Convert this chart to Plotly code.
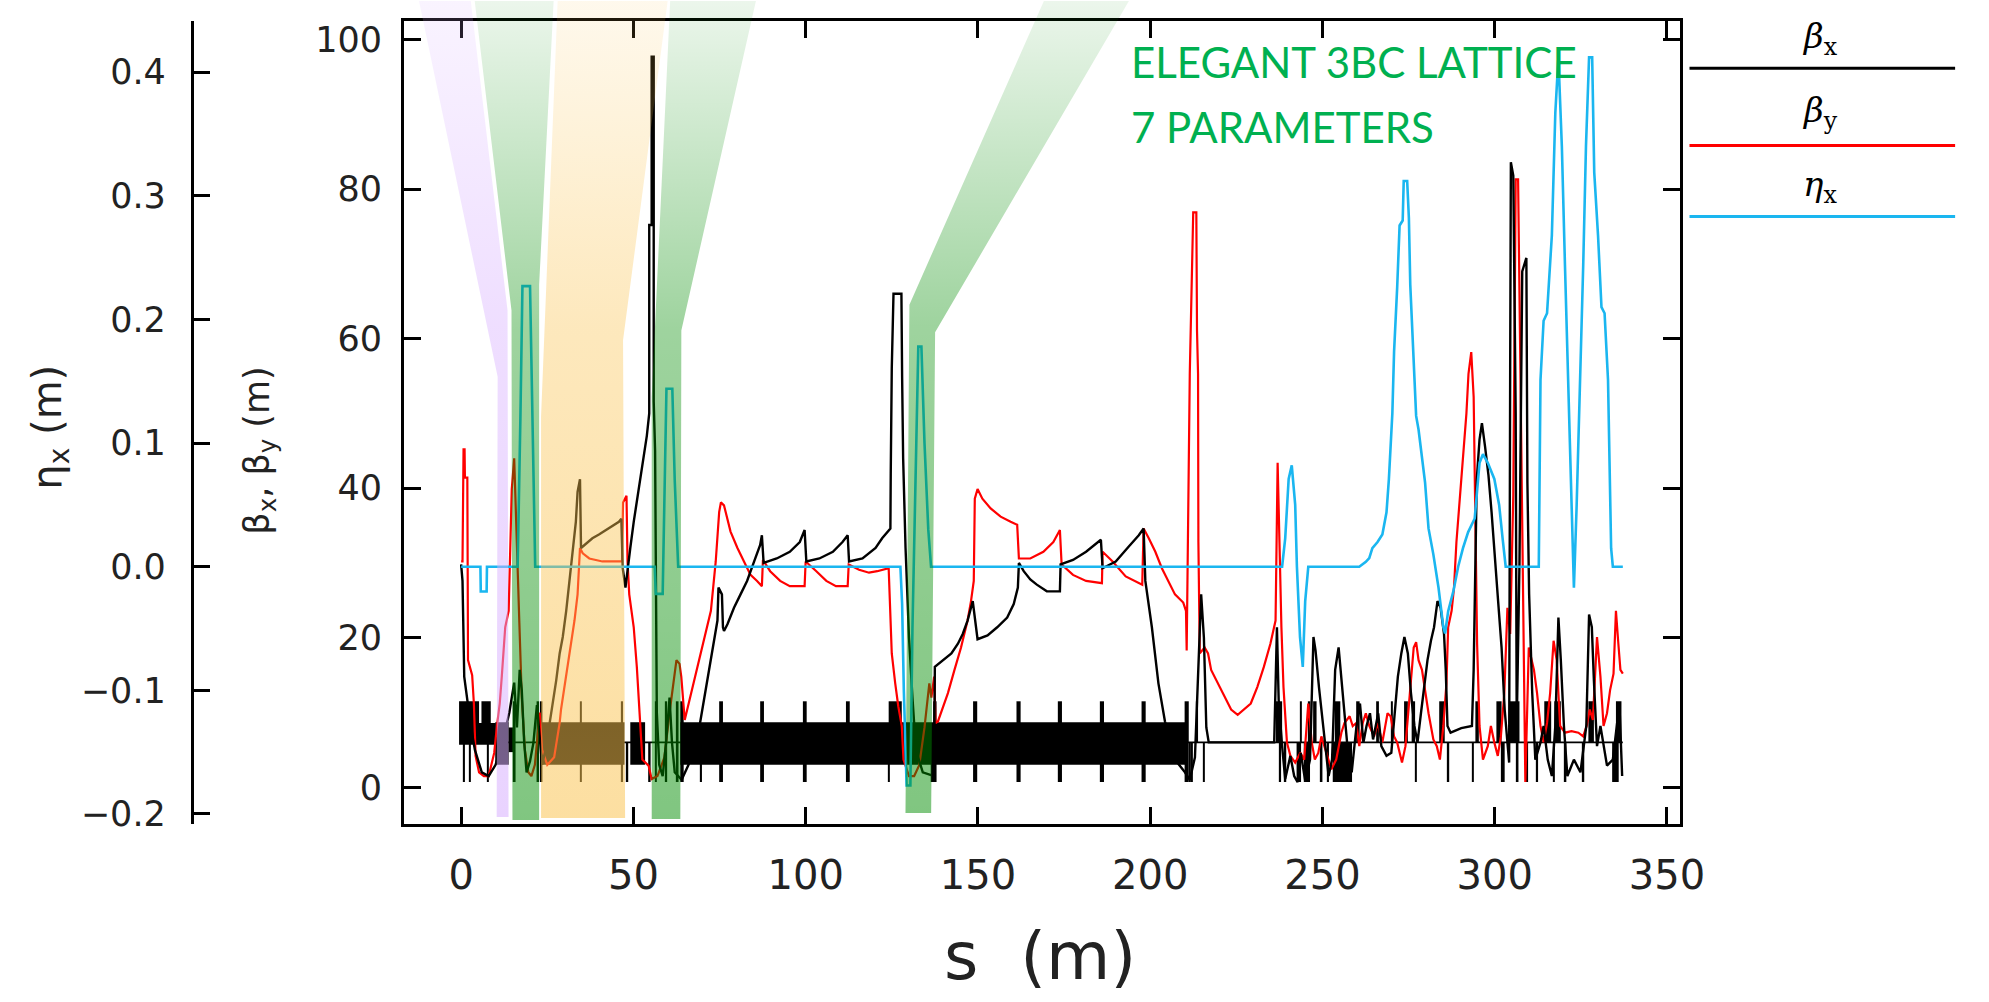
import plotly.graph_objects as go

FIG_W, FIG_H = 1989, 1002

# ---------------- calibration of the original drawing (pixels) ----------------
PLOT_L, PLOT_R, PLOT_T, PLOT_B = 409, 1701, 20, 832
S0_PX, PX_PER_M = 467, 3.489        # s = 0 m position, pixels per metre
B0_PY, PY_PER_BETA = 795, 7.56      # beta = 0 position, pixels per metre of beta
E0_PY, PY_PER_ETA = 572, 1250       # eta = 0 position, pixels per metre of eta
ETA_AXIS_X = 194


def s_at(px):
    return (px - S0_PX) / PX_PER_M


def beta_at(py):
    return (B0_PY - py) / PY_PER_BETA


def eta_at(py):
    return (E0_PY - py) / PY_PER_ETA


# ---------------- data: (s [m], value) ----------------
beta_x_pts = [
    (0.0, 29.8), (0.4, 27.6), (0.9, 14.8), (1.8, 11.7), (2.8, 8.2), (4.0, 5.0), (6.0, 2.0), (8.0, 1.5),
    (10.0, 3.0), (12.0, 6.0), (14.0, 10.0), (15.4, 14.0), (16.2, 8.0), (17.0, 15.7), (17.6, 13.0),
    (18.3, 6.0), (19.0, 2.0), (20.0, 3.5), (21.0, 6.0), (22.0, 11.0), (22.5, 8.0), (23.5, 3.0),
    (24.5, 5.0), (25.7, 8.6), (26.7, 11.2), (27.6, 14.3), (28.6, 17.9), (29.5, 20.1), (30.5, 23.6),
    (31.4, 27.6), (32.4, 31.1), (33.3, 35.5), (33.8, 39.5), (34.5, 41.2), (34.8, 32.0), (36.3, 32.6),
    (38.1, 33.3), (40.0, 33.8), (42.0, 34.4), (43.9, 35.0), (45.8, 35.5), (46.5, 35.9), (46.9, 29.3),
    (47.7, 26.7), (48.3, 29.3), (49.1, 32.0), (50.1, 35.5), (51.0, 38.1), (52.0, 41.2), (52.9, 43.9),
    (53.9, 47.0), (54.6, 50.0), (54.6, 75.2), (55.3, 75.2), (55.3, 97.7), (55.9, 97.7), (55.9, 51.6),
    (56.3, 45.0), (56.5, 30.0), (56.8, 10.0), (57.5, 3.0), (58.5, 1.5), (59.5, 6.0), (60.5, 12.0),
    (61.2, 6.0), (62.0, 2.0), (63.0, 1.5), (64.0, 1.0), (66.0, 3.0), (68.0, 6.0), (69.2, 8.2),
    (71.1, 13.4), (73.0, 18.7), (74.4, 22.3), (74.7, 26.7), (75.7, 25.8), (76.0, 21.4), (76.3, 20.9),
    (77.3, 21.8), (79.2, 24.0), (81.1, 25.8), (83.0, 27.6), (84.9, 30.0), (86.8, 32.4), (87.3, 33.7),
    (87.8, 30.0), (91.6, 30.6), (95.4, 31.5), (98.3, 32.8), (99.7, 34.4), (100.2, 30.2), (104.0, 30.6),
    (107.9, 31.5), (110.7, 32.8), (112.2, 33.7), (112.6, 30.2), (116.5, 30.6), (120.3, 32.0),
    (122.2, 33.3), (124.6, 34.6), (124.7, 42.0), (125.0, 56.0), (125.5, 66.0), (127.8, 66.0),
    (128.0, 55.0), (128.3, 44.0), (129.0, 32.0), (130.0, 20.0), (131.0, 12.0), (132.0, 5.0),
    (134.0, 2.0), (137.3, 1.5), (137.5, 16.1), (140.3, 17.2), (142.3, 17.9), (144.2, 19.2),
    (145.6, 20.5), (147.0, 22.3), (148.5, 24.9), (149.9, 19.8), (152.8, 20.3), (155.6, 21.4),
    (158.5, 22.7), (160.4, 24.5), (161.6, 26.7), (161.9, 30.0), (163.3, 28.9), (165.2, 27.8),
    (167.1, 27.1), (170.0, 26.2), (173.8, 26.2), (174.0, 29.8), (177.6, 30.4), (181.4, 31.5),
    (184.3, 32.6), (185.7, 33.1), (186.2, 29.3), (190.0, 30.2), (193.8, 32.2), (196.7, 33.7),
    (198.1, 34.6), (198.6, 27.6), (200.5, 21.4), (202.4, 13.9), (204.3, 8.8), (207.2, 3.7),
    (210.1, 2.0), (211.5, 1.0), (213.0, 4.0), (214.8, 25.8), (215.6, 20.0), (216.3, 8.0), (217.0, 6.0),
    (236.0, 6.0), (236.8, 21.4), (237.3, 11.7), (238.3, 5.5), (239.2, 1.1), (240.7, 4.2), (241.8, 1.5),
    (242.8, 0.7), (243.7, 4.6), (245.0, 0.9), (246.4, 3.7), (247.4, 20.1), (248.0, 18.3), (249.0, 13.4),
    (249.9, 9.5), (250.9, 5.5), (251.8, 1.5), (252.8, 3.7), (253.7, 15.7), (254.7, 18.7), (255.7, 13.4),
    (256.6, 8.2), (257.6, 3.7), (258.5, 2.0), (259.9, 8.2), (260.9, 11.2), (261.9, 6.0), (262.8, 8.2),
    (263.8, 9.9), (264.7, 6.4), (266.2, 9.9), (267.1, 5.5), (268.6, 4.2), (270.0, 4.6), (270.9, 9.0),
    (271.9, 14.8), (272.9, 17.9), (273.8, 20.1), (274.8, 17.9), (275.7, 12.6), (276.7, 8.2),
    (277.6, 6.0), (278.6, 9.9), (279.6, 13.4), (280.5, 17.0), (281.5, 19.6), (282.4, 21.4),
    (283.4, 24.9), (284.3, 24.0), (285.3, 20.5), (285.8, 15.7), (286.3, 8.2), (287.2, 7.3),
    (290.3, 7.9), (293.4, 8.2), (293.9, 15.7), (294.3, 28.4), (294.8, 41.2), (295.6, 46.5),
    (296.3, 48.7), (297.2, 45.6), (298.2, 41.7), (299.1, 36.8), (300.1, 31.1), (301.0, 24.9),
    (302.0, 18.7), (302.9, 10.4), (303.7, 6.0), (304.2, 3.3), (304.5, 56.2), (304.7, 83.6),
    (305.4, 81.8), (306.1, 50.0), (306.4, 8.2), (307.2, 30.0), (308.0, 69.0), (309.2, 70.8),
    (309.5, 40.8), (310.0, 25.8), (310.9, 12.6), (311.8, 3.7), (313.3, 6.0), (314.2, 8.2),
    (315.4, 3.7), (316.6, 1.5), (317.6, 8.2), (318.5, 22.7), (319.2, 17.0), (320.1, 8.2),
    (321.1, 1.5), (323.0, 3.7), (324.9, 2.0), (326.6, 8.2), (327.4, 23.1), (328.2, 21.4),
    (328.8, 14.3), (329.7, 5.5), (330.7, 8.2), (332.6, 2.9), (334.3, 3.7), (335.4, 8.2),
    (336.2, 11.2), (337.0, 1.5),
]

beta_y_pts = [
    (0.0, 30.2), (0.4, 30.2), (0.7, 45.2), (1.0, 45.2), (1.1, 41.4), (1.8, 41.4), (2.0, 17.0),
    (3.2, 15.0), (3.7, 11.2), (4.2, 4.2), (5.2, 2.0), (6.6, 1.5), (8.0, 1.5), (8.7, 2.9), (9.6, 4.6),
    (10.4, 8.2), (11.2, 11.2), (11.8, 14.8), (12.8, 21.4), (13.8, 23.6), (14.2, 31.1), (14.7, 39.9),
    (15.4, 44.0), (16.1, 35.0), (16.9, 22.0), (17.6, 12.0), (18.5, 5.0), (19.5, 2.0), (20.4, 1.5),
    (21.4, 3.0), (22.4, 8.0), (22.8, 10.0), (23.5, 5.0), (25.0, 3.0), (27.0, 4.0), (28.6, 8.6),
    (29.0, 10.4), (30.0, 13.4), (31.0, 16.1), (31.9, 19.2), (32.9, 22.3), (33.8, 25.8), (34.4, 31.0),
    (34.5, 32.0), (35.3, 31.3), (37.2, 30.6), (39.1, 30.4), (41.0, 30.2), (46.7, 30.2), (47.0, 38.1),
    (48.0, 39.0), (48.3, 30.2), (48.8, 25.8), (50.1, 21.4), (51.0, 16.1), (52.0, 9.0), (52.6, 3.7),
    (54.4, 2.9), (55.3, 1.1), (57.0, 1.5), (59.0, 4.0), (60.5, 10.0), (61.8, 15.0), (62.5, 17.0),
    (63.4, 16.5), (63.9, 14.8), (64.9, 9.0), (66.8, 12.6), (68.7, 16.1), (70.6, 19.6), (72.5, 23.6),
    (73.9, 30.2), (74.9, 36.8), (75.4, 38.1), (76.3, 37.7), (78.2, 34.2), (80.2, 32.0), (82.1, 30.2),
    (84.0, 28.4), (85.9, 27.6), (87.3, 26.9), (87.6, 30.4), (89.7, 28.9), (92.6, 27.6), (95.4, 26.9),
    (99.7, 26.9), (100.0, 30.2), (103.1, 28.9), (106.0, 27.6), (108.8, 26.9), (112.2, 26.9),
    (112.5, 29.8), (115.5, 29.1), (118.4, 28.7), (120.8, 28.9), (124.1, 29.3), (124.6, 24.0),
    (125.0, 17.9), (126.0, 13.9), (126.9, 10.8), (127.9, 8.2), (128.4, 3.7), (130.0, 1.5),
    (131.5, 1.5), (133.0, 3.0), (134.5, 8.0), (135.9, 13.9), (136.5, 12.0), (137.3, 14.8),
    (137.7, 8.6), (138.4, 8.8), (141.3, 12.6), (143.2, 15.7), (145.1, 18.7), (147.0, 22.3),
    (148.0, 24.9), (148.8, 27.6), (149.1, 38.6), (149.9, 39.9), (151.3, 38.6), (153.7, 37.3),
    (156.6, 36.2), (159.5, 35.5), (161.4, 35.1), (161.9, 30.6), (165.2, 30.6), (169.0, 31.5),
    (171.9, 32.8), (173.8, 34.4), (174.3, 29.8), (177.6, 28.4), (181.4, 27.6), (186.0, 27.3),
    (186.2, 31.5), (189.1, 30.2), (192.9, 28.2), (197.7, 27.1), (198.1, 34.6), (199.6, 33.3),
    (201.5, 31.5), (203.4, 29.3), (205.3, 27.6), (207.2, 25.8), (209.6, 24.7), (210.4, 23.6),
    (210.6, 18.3), (210.9, 32.4), (211.5, 55.3), (212.5, 76.9), (213.4, 76.9), (213.6, 61.1),
    (213.9, 55.3), (214.0, 32.8), (214.4, 17.9), (215.8, 18.7), (216.8, 17.9), (217.7, 15.7),
    (219.6, 13.9), (221.5, 12.1), (223.5, 10.4), (225.4, 9.7), (227.3, 10.4), (229.2, 11.2),
    (231.1, 13.4), (233.0, 16.1), (234.9, 19.2), (236.4, 22.3), (237.0, 43.4), (237.5, 32.4),
    (238.1, 21.4), (238.7, 13.4), (239.7, 6.0), (240.7, 4.2), (242.1, 3.3), (243.6, 4.6),
    (244.7, 3.7), (245.9, 11.2), (246.9, 6.0), (247.8, 3.7), (248.8, 4.6), (249.7, 6.8),
    (251.2, 4.6), (252.6, 2.4), (254.0, 3.7), (255.5, 7.3), (256.4, 8.6), (257.9, 9.5), (258.8, 8.2),
    (259.8, 8.6), (260.7, 5.5), (261.7, 8.6), (262.6, 9.9), (263.6, 8.2), (265.0, 6.8), (266.0, 8.6),
    (267.4, 6.0), (268.9, 9.9), (269.8, 9.5), (270.8, 6.8), (271.7, 6.0), (273.1, 3.3), (274.1, 5.5),
    (275.1, 11.2), (276.5, 18.7), (277.2, 19.4), (277.9, 17.0), (278.9, 15.7), (279.8, 12.6),
    (280.8, 9.9), (282.2, 6.4), (283.2, 5.5), (284.1, 3.7), (285.1, 8.2), (286.0, 13.9),
    (286.5, 21.4), (287.5, 23.6), (288.2, 26.7), (288.9, 32.8), (289.9, 39.0), (290.8, 44.3),
    (291.8, 50.0), (292.4, 55.3), (293.2, 58.2), (293.9, 52.2), (294.3, 36.8), (294.9, 19.2),
    (295.6, 8.2), (296.6, 3.7), (298.0, 5.5), (298.9, 8.2), (299.9, 6.0), (300.9, 4.2), (301.8, 6.8),
    (302.8, 12.6), (303.7, 24.0), (304.5, 20.5), (305.4, 39.0), (306.1, 81.3), (306.8, 81.3),
    (307.3, 61.1), (308.0, 30.2), (308.9, 0.7), (309.9, 18.7), (311.4, 15.7), (312.3, 12.6),
    (313.3, 8.2), (314.2, 6.0), (315.2, 8.6), (316.1, 12.6), (317.1, 19.6), (318.0, 17.0),
    (319.0, 8.2), (320.4, 7.3), (322.3, 7.5), (324.3, 7.3), (325.7, 6.8), (326.7, 8.2), (327.6, 10.4),
    (328.5, 9.0), (329.7, 20.1), (330.7, 14.8), (331.6, 8.2), (332.6, 9.9), (333.5, 13.0),
    (334.5, 15.2), (335.2, 23.6), (335.9, 19.2), (336.5, 15.7), (337.2, 15.2),
]

eta_x_pts = [
    (0.0, 0.0), (5.6, 0.0), (5.7, -0.02), (7.4, -0.02), (7.5, 0.0), (16.4, 0.0), (17.2, 0.12),
    (17.8, 0.227), (20.0, 0.227), (20.8, 0.12), (21.5, 0.0), (56.2, 0.0), (56.5, -0.022),
    (58.5, -0.022), (59.0, 0.06), (59.6, 0.144), (61.3, 0.144), (62.0, 0.07), (63.0, 0.0),
    (127.5, 0.0), (128.0, -0.03), (128.5, -0.10), (129.3, -0.177), (130.4, -0.177), (131.0, -0.05),
    (132.0, 0.10), (132.7, 0.178), (133.6, 0.178), (134.5, 0.10), (135.6, 0.03), (136.4, 0.0),
    (238.3, 0.0), (239.2, 0.023), (240.2, 0.071), (241.1, 0.082), (242.1, 0.050), (242.6, 0.0),
    (243.5, -0.057), (244.3, -0.081), (245.0, -0.028), (245.9, 0.0), (260.7, 0.0), (262.6, 0.004),
    (263.6, 0.007), (264.5, 0.015), (266.0, 0.020), (267.4, 0.026), (268.6, 0.044), (269.3, 0.071),
    (270.3, 0.124), (270.8, 0.174), (271.7, 0.226), (272.4, 0.276), (273.3, 0.28), (273.6, 0.312),
    (274.6, 0.312), (275.1, 0.282), (275.5, 0.228), (276.5, 0.171), (277.2, 0.122), (277.9, 0.111),
    (278.9, 0.090), (279.8, 0.068), (280.8, 0.031), (282.2, 0.010), (283.7, -0.017), (285.1, -0.049),
    (285.6, -0.054), (286.5, -0.036), (288.0, -0.020), (289.4, 0.0), (290.8, 0.015), (292.3, 0.028),
    (294.2, 0.039), (295.6, 0.084), (296.6, 0.091), (298.0, 0.084), (299.9, 0.071), (301.3, 0.050),
    (302.3, 0.023), (303.2, 0.0), (312.8, 0.0), (313.3, 0.151), (314.2, 0.199), (315.2, 0.205),
    (316.6, 0.268), (317.6, 0.367), (318.5, 0.412), (319.5, 0.34), (320.4, 0.244), (321.4, 0.148),
    (322.4, 0.039), (323.0, -0.017), (323.8, 0.050), (324.7, 0.134), (325.7, 0.244), (326.5, 0.34),
    (327.4, 0.412), (328.3, 0.412), (328.9, 0.319), (330.0, 0.268), (331.0, 0.21), (331.9, 0.205),
    (332.9, 0.151), (333.8, 0.015), (334.3, 0.0), (337.2, 0.0),
]

# lattice elements: (start, end) in s [m]
dipoles = [(9.9, 13.8), (23.0, 47.4), (49.1, 53.4), (63.6, 210.6)]
quads_full = [(15.0, 15.8), (21.9, 22.6), (23.1, 23.6), (34.6, 35.0), (46.5, 47.0), (56.3, 56.8),
              (59.3, 59.8), (62.6, 63.1), (63.6, 64.6), (74.9, 76.0), (86.8, 87.9), (99.2, 100.3),
              (111.7, 112.8), (137.0, 138.0), (148.6, 149.8), (161.2, 162.4), (173.2, 174.4),
              (185.4, 186.6), (197.5, 198.7), (210.0, 211.2)]
quads_up = [(124.1, 127.9), (213.4, 213.9), (236.5, 238.3), (243.5, 244.0),
            (246.0, 246.5), (247.3, 248.3), (253.6, 255.2), (259.8, 260.8), (265.6, 266.4),
            (269.9, 270.4), (273.7, 274.8), (275.9, 276.9), (283.9, 285.5), (294.4, 295.4),
            (300.5, 302.0), (304.2, 307.2), (314.4, 316.4), (317.3, 319.2), (327.2, 328.8),
            (335.2, 336.8)]
quads_down = [(0.6, 1.1), (2.4, 2.8), (7.5, 7.9), (48.0, 48.5), (54.3, 55.0),
              (69.4, 69.9), (123.9, 124.3), (136.3, 137.6), (211.3, 211.8), (212.0, 212.4),
              (215.3, 215.8), (237.5, 238.0), (239.0, 239.5), (242.5, 243.8), (244.6, 246.4),
              (249.5, 250.0), (251.4, 251.9), (253.0, 258.6), (276.9, 277.4), (286.3, 286.8),
              (293.4, 293.9), (301.8, 302.9), (306.4, 306.9), (309.2, 309.7), (312.1, 312.6),
              (316.9, 317.4), (320.3, 320.8), (325.5, 326.0), (334.1, 336.0)]
# (start, end, low, high) for the odd-shaped blocks of the first section
blocks_other = [(-0.6, 10.0, 5.7, 8.6), (-0.6, 5.2, 8.6, 11.5), (5.9, 8.6, 8.6, 11.5),
                (13.8, 15.2, 4.7, 8.0)]
beamline_s = [0.0, 337.2]

# highlight bands (s [m], beta [m] coordinates of the drawing)
band_purple = ([-12.61, 2.58, 13.47, 13.76, 10.32, 10.60], [106, 106, 63.76, -3.97, -3.97, 54.89])
band_green1 = ([3.73, 26.94, 22.64, 22.64, 14.90, 14.62], [106, 106, 67.2, -4.37, -4.37, 63.76])
band_orange = ([28.09, 60.19, 47.0, 47.6, 23.2, 23.2], [106, 106, 59.8, -4.1, -4.1, 49.6])
band_green2 = ([60.76, 85.98, 63.92, 63.63, 55.32, 55.32], [106, 106, 61.1, -4.23, -4.23, 52.2])
band_green3 = ([169.96, 194.90, 137.58, 136.43, 128.98, 130.12], [106, 106, 60.85, -3.44, -3.44, 64.55])

S_TICKS = [0, 50, 100, 150, 200, 250, 300, 350]
BETA_TICKS = [0, 20, 40, 60, 80, 100]
ETA_TICKS = [-0.2, -0.1, 0.0, 0.1, 0.2, 0.3, 0.4]

# element profile levels
AXIS_LEVEL = 6.0
DIP_LO, DIP_HI = 3.0, 8.7
Q_LO, Q_HI = 0.7, 11.5

BLACK = "#000000"
RED = "#FF0000"
CYAN = "#1AB6F0"
GREEN_TXT = "#00B050"
FONT = "DejaVu Sans"

fig = go.Figure()


def add_elements(pairs, lo, hi):
    fig.add_trace(go.Bar(
        x=[(a + b) / 2 for a, b in pairs], width=[b - a for a, b in pairs],
        y=[hi - lo] * len(pairs), base=[lo] * len(pairs),
        marker=dict(color=BLACK, line=dict(width=0)), showlegend=False, hoverinfo="skip",
        xaxis="x", yaxis="y"))


# beamline axis and magnets
fig.add_trace(go.Scatter(x=beamline_s, y=[AXIS_LEVEL] * len(beamline_s), mode="lines",
                         line=dict(color=BLACK, width=1.8), showlegend=False, hoverinfo="skip"))
add_elements(dipoles, DIP_LO, DIP_HI)
add_elements(quads_full, Q_LO, Q_HI)
add_elements(quads_up, AXIS_LEVEL, Q_HI)
add_elements(quads_down, Q_LO, AXIS_LEVEL)
fig.add_trace(go.Bar(
    x=[(b[0] + b[1]) / 2 for b in blocks_other], width=[b[1] - b[0] for b in blocks_other],
    y=[b[3] - b[2] for b in blocks_other], base=[b[2] for b in blocks_other],
    marker=dict(color=BLACK, line=dict(width=0)), showlegend=False, hoverinfo="skip"))

# optics functions
fig.add_trace(go.Scatter(x=[p[0] for p in beta_y_pts], y=[p[1] for p in beta_y_pts], mode="lines",
                         line=dict(color=RED, width=2.2), name="beta_y", showlegend=False))
fig.add_trace(go.Scatter(x=[p[0] for p in beta_x_pts], y=[p[1] for p in beta_x_pts], mode="lines",
                         line=dict(color=BLACK, width=2.4), name="beta_x", showlegend=False))
fig.add_trace(go.Scatter(x=[p[0] for p in eta_x_pts], y=[p[1] for p in eta_x_pts], mode="lines",
                         line=dict(color=CYAN, width=2.6), name="eta_x", showlegend=False,
                         xaxis="x", yaxis="y2"))


# highlight bands (overlay axes spanning the whole figure, same scales)
def add_band(band, rgb, a_bot, a_mid, a_top):
    xs, ys = band
    fig.add_trace(go.Scatter(
        x=xs + [xs[0]], y=ys + [ys[0]], mode="lines", fill="toself",
        line=dict(width=0, color="rgba(0,0,0,0)"),
        fillgradient=dict(type="vertical", start=min(ys), stop=max(ys), colorscale=[
            [0.0, f"rgba({rgb},{a_bot})"], [0.6, f"rgba({rgb},{a_mid})"], [1.0, f"rgba({rgb},{a_top})"]]),
        showlegend=False, hoverinfo="skip", xaxis="x3", yaxis="y3"))


add_band(band_purple, "216,176,255", 0.56, 0.42, 0.14)
add_band(band_green1, "0,140,0", 0.50, 0.38, 0.07)
add_band(band_orange, "250,195,80", 0.54, 0.38, 0.10)
add_band(band_green2, "0,140,0", 0.50, 0.38, 0.07)
add_band(band_green3, "0,140,0", 0.50, 0.38, 0.07)

tick_font_x = dict(family=FONT, size=40, color="#222")
tick_font_y = dict(family=FONT, size=35, color="#222")

axis_common = dict(showgrid=False, zeroline=False, showline=True, linecolor=BLACK, linewidth=2.5,
                   ticks="inside", ticklen=17, tickwidth=2.5, tickcolor=BLACK)

fig.update_layout(
    width=FIG_W, height=FIG_H, margin=dict(l=0, r=0, t=0, b=0),
    paper_bgcolor="white", plot_bgcolor="rgba(0,0,0,0)", barmode="overlay", showlegend=False,
    xaxis=dict(domain=[PLOT_L / FIG_W, PLOT_R / FIG_W], range=[s_at(PLOT_L), s_at(PLOT_R)],
               anchor="y", mirror="ticks", tickvals=S_TICKS, tickfont=tick_font_x,
               ticklabelstandoff=14, **axis_common),
    yaxis=dict(domain=[1 - PLOT_B / FIG_H, 1 - PLOT_T / FIG_H], range=[beta_at(PLOT_B), beta_at(PLOT_T)],
               anchor="x", mirror="ticks", tickvals=BETA_TICKS, tickfont=tick_font_y,
               ticklabelstandoff=12, **axis_common),
    yaxis2=dict(overlaying="y", anchor="free", position=ETA_AXIS_X / FIG_W, side="left",
                range=[eta_at(PLOT_B), eta_at(PLOT_T)], tickvals=ETA_TICKS, tickformat=".1f",
                tickfont=tick_font_y, ticklabelstandoff=18, **axis_common),
    xaxis3=dict(domain=[0, 1], range=[s_at(0), s_at(FIG_W)], anchor="y3", visible=False),
    yaxis3=dict(domain=[0, 1], range=[beta_at(FIG_H), beta_at(0)], anchor="x3", visible=False),
)

# axis titles
fig.add_annotation(xref="paper", yref="paper", x=1053 / FIG_W, y=1 - 966 / FIG_H,
                   text="s\u00a0\u00a0(m)", showarrow=False, xanchor="center", yanchor="middle",
                   font=dict(family=FONT, size=66, color="#222"))
fig.add_annotation(xref="paper", yref="paper", x=51 / FIG_W, y=1 - 431 / FIG_H, textangle=-90,
                   text="η<sub>x</sub> (m)", showarrow=False, xanchor="center", yanchor="middle",
                   font=dict(family=FONT, size=40, color="#222"))
fig.add_annotation(xref="paper", yref="paper", x=262 / FIG_W, y=1 - 455 / FIG_H, textangle=-90,
                   text="β<sub>x</sub>, β<sub>y</sub> (m)", showarrow=False, xanchor="center",
                   yanchor="middle", font=dict(family=FONT, size=35, color="#222"))

# title text
fig.add_annotation(xref="paper", yref="paper", x=1143 / FIG_W, y=1 - 62 / FIG_H,
                   text="ELEGANT 3BC LATTICE", showarrow=False, xanchor="left", yanchor="middle",
                   font=dict(family="Lato", size=42, color=GREEN_TXT))
fig.add_annotation(xref="paper", yref="paper", x=1143 / FIG_W, y=1 - 127 / FIG_H,
                   text="7 PARAMETERS", showarrow=False, xanchor="left", yanchor="middle",
                   font=dict(family="Lato", size=42, color=GREEN_TXT))

# legend (label above line)
legend_items = [("<i>β</i><sub>x</sub>", BLACK, 38, 68), ("<i>β</i><sub>y</sub>", RED, 113, 146),
                ("<i>η</i><sub>x</sub>", CYAN, 188, 218)]
for label, col, ty, ly in legend_items:
    fig.add_shape(type="line", xref="paper", yref="paper", x0=1711 / FIG_W, x1=1980 / FIG_W,
                  y0=1 - ly / FIG_H, y1=1 - ly / FIG_H, line=dict(color=col, width=3))
    fig.add_annotation(xref="paper", yref="paper", x=1843 / FIG_W, y=1 - ty / FIG_H, text=label,
                       showarrow=False, xanchor="center", yanchor="middle",
                       font=dict(family="DejaVu Serif", size=34, color=BLACK))

fig.write_html("out.html")
